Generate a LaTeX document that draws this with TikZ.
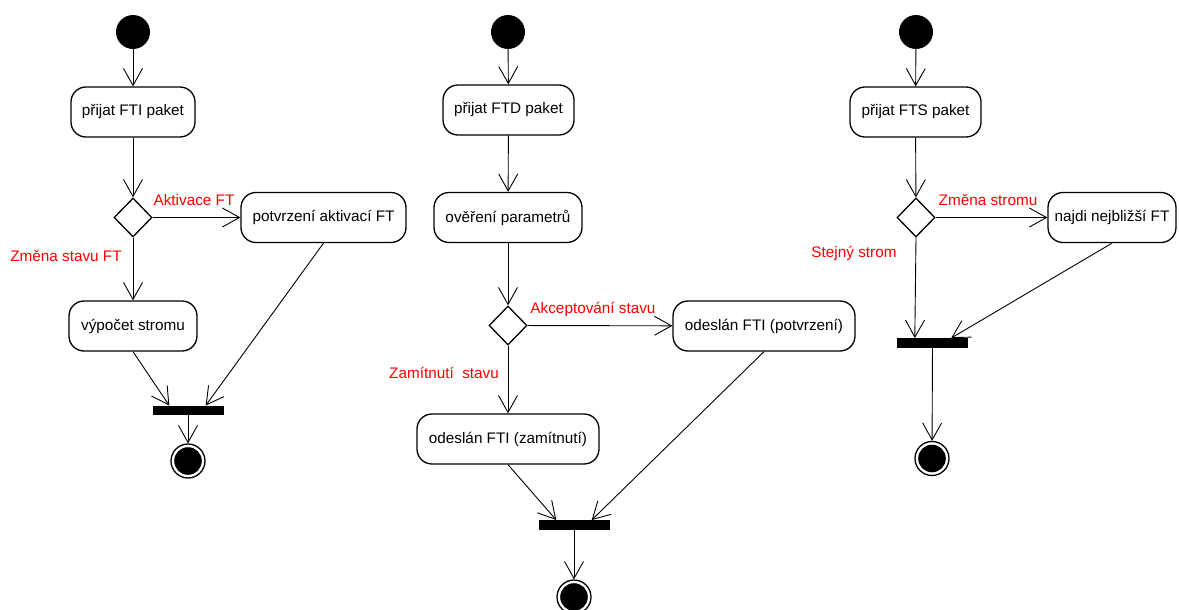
\documentclass[tikz,border=0pt]{standalone}
\usepackage{fontspec}
\setmainfont{Liberation Sans}
\usetikzlibrary{arrows.meta,shapes.geometric,calc}
\begin{document}
\begin{tikzpicture}[x=1pt,y=-1pt,
  txt/.style={font=\fontsize{15.3}{18}\selectfont},
  act/.style={draw, line width=1.3pt, rounded corners=15pt, minimum height=50pt, inner sep=0pt, txt},
  initnode/.style={circle, fill=black, minimum size=34pt, inner sep=0pt},
  finalnode/.style={circle, draw, line width=1.3pt, minimum size=34pt, inner sep=0pt,
     path picture={\fill (path picture bounding box.center) circle (13.8pt);}},
  decision/.style={diamond, draw, line width=1.3pt, minimum width=38pt, minimum height=39pt, inner sep=0pt},
  joinbar/.style={rectangle, fill=black, minimum width=71pt, minimum height=9.5pt, inner sep=0pt},
  flow/.style={draw, line width=0.9pt, -{Straight Barb[length=17pt,width=19pt]}},
  guard/.style={text=red, inner sep=0pt, txt}
]
\useasboundingbox (0,0) rectangle (1179,610);
\clip (0,0) rectangle (1179,610);
\fill[white] (0,0) rectangle (1179,610);

% ---------- diagram 1 ----------
\node[initnode] (i1) at (133,32) {};
\node[act, minimum width=124pt] (b1a) at (133,112) {přijat FTI paket};
\node[decision] (d1) at (133,217.5) {};
\node[act, minimum width=165pt] (b1b) at (323.5,217.5) {potvrzení aktivací FT};
\node[act, minimum width=128pt] (b1c) at (133,326) {výpočet stromu};
\node[joinbar] (bar1) at (188,410.5) {};
\node[finalnode] (f1) at (188,461) {};
\node[guard] (g1a) at (194,200) {Aktivace FT};
\node[guard] (g1b) at (66,256) {Změna stavu FT};

\draw[flow] (i1) -- (b1a);
\draw[flow] (b1a) -- (d1);
\draw[flow] (d1) -- (b1b);
\draw[flow] (d1) -- (b1c);
\draw[flow] (b1c.south) -- ($(bar1.north west)+(17,0)$);
\draw[flow] (b1b.south) -- ($(bar1.north east)+(-18,0)$);
\draw[flow] (bar1) -- (f1);

% ---------- diagram 2 ----------
\node[initnode] (i2) at (508,32) {};
\node[act, minimum width=131pt] (b2a) at (508.5,110) {přijat FTD paket};
\node[act, minimum width=148pt] (b2b) at (508,217.5) {ověření parametrů};
\node[decision] (d2) at (508,325.5) {};
\node[act, minimum width=182pt] (b2c) at (764,326) {odeslán FTI (potvrzení)};
\node[act, minimum width=182pt] (b2d) at (508,439) {odeslán FTI (zamítnutí)};
\node[joinbar] (bar2) at (574,525) {};
\node[finalnode] (f2) at (574,597) {};
\node[guard] (g2a) at (593,309) {Akceptování stavu};
\node[guard] (g2b) at (444,373) {Zamítnutí~~stavu};

\draw[flow] (i2) -- (b2a);
\draw[flow] (b2a) -- (b2b);
\draw[flow] (b2b) -- (d2);
\draw[flow] (d2) -- (b2c);
\draw[flow] (d2) -- (b2d);
\draw[flow] (b2d.south) -- ($(bar2.north west)+(18,0)$);
\draw[flow] (b2c.south) -- ($(bar2.north east)+(-18,0)$);
\draw[flow] (bar2) -- (f2);

% ---------- diagram 3 ----------
\node[initnode] (i3) at (916,32) {};
\node[act, minimum width=131pt] (b3a) at (915.5,112) {přijat FTS paket};
\node[decision] (d3) at (916,217.5) {};
\node[act, minimum width=128pt] (b3b) at (1112,217.5) {najdi nejbližší FT};
\node[joinbar] (bar3) at (932.5,343) {};
\node[finalnode] (f3) at (932,458.5) {};
\node[guard] (g3a) at (988,200) {Změna stromu};
\node[guard] (g3b) at (854,253) {Stejný strom};

\draw[flow] (i3) -- (b3a);
\draw[flow] (b3a) -- (d3);
\draw[flow] (d3) -- (b3b);
\draw[flow] (d3.south) -- ($(bar3.north west)+(18,0)$);
\draw[flow] (b3b.south) -- ($(bar3.north east)+(-17,0)$);
\draw[flow] (bar3) -- (f3);
\end{tikzpicture}
\end{document}
